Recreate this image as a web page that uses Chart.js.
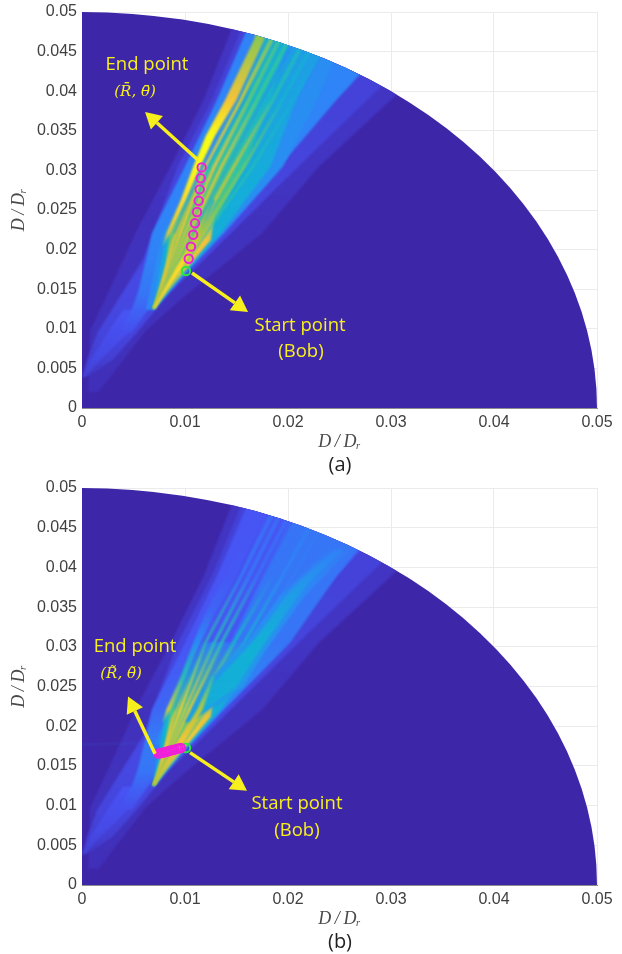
<!DOCTYPE html>
<html><head><meta charset="utf-8">
<script src="https://cdn.jsdelivr.net/npm/chart.js@4"></script>
<style>html,body{margin:0;padding:0;background:#fff}canvas{position:absolute;left:0}</style>
</head><body>
<canvas id="a" width="622" height="477" style="top:0"></canvas>
<canvas id="b" width="622" height="477" style="top:477px"></canvas>
<script>
// Axis ticks
const xTickValues=[0,0.01,0.02,0.03,0.04,0.05];
const yTickValues=[0,0.005,0.01,0.015,0.02,0.025,0.03,0.035,0.04,0.045,0.05];
const radius=0.05;
const axisTitle='D\u2009/\u2009Dᵣ';
// Intensity bands: [y, xLeft, xRight, intensity (a), intensity (b)]; a negative intensity means the band is absent
const bandWide=[[.0020,.0006,.0016,.03,.03],[.0098,.0008,.0062,.04,.04],[.0136,.0022,.0095,.04,.04],[.0221,.0052,.0175,.04,.04],[.0305,.0086,.0230,.05,.05],[.0389,.0118,.0300,.05,.05],[.052,.0158,.0410,.05,.05]];
const bandViolet=[[.0039,0,.0005,.05,.05],[.0061,.0005,.0030,.08,.08],[.0095,.0015,.0053,.1,.1],[.0145,.0039,.0085,.11,.11],[.0187,.0059,.0118,.11,.11],[.0305,.0093,.0210,.1,.1],[.0389,.0126,.0277,.09,.09],[.052,.0168,.0385,.09,.09]];
const bandGlowCore=[[.0039,0,.0003,.08,.08],[.0061,.0008,.0018,.11,.11],[.0095,.0025,.0045,.13,.13],[.0124,.0040,.0060,.15,.15]];
const bandBlue=[[.0095,.0036,.0048,.13,.13],[.0124,.0048,.0064,.19,.19],[.0145,.0054,.0076,.24,.24],[.0187,.0062,.0103,.27,.25],[.0221,.0068,.0134,.28,.2],[.0305,.0100,.0192,.28,.15],[.0389,.0131,.0247,.28,.15],[.052,.0174,.0340,.27,.15]];
const bandSkyA=[[.0124,.0062,.0069,.29,-1],[.0178,.0071,.0106,.31,-1],[.0221,.0078,.0138,.31,-1],[.0305,.0118,.0195,.31,-1],[.0389,.0150,.0228,.31,-1],[.052,.0183,.0272,.3,-1]];
const bandSkyB=[[.0124,-1,-1,-1,.25],[.0178,.0071,.0106,-1,.3],[.0221,.0085,.0138,-1,.3],[.0305,.0144,.0202,-1,.24],[.0389,.0175,.0247,-1,.24],[.052,.0225,.0330,-1,.24]];
const bandTeal=[[.0124,.0068,.0070,.36,.4],[.0178,.0076,.0105,.4,.43],[.0221,.0082,.0135,.42,.42],[.0305,.0118,.0183,.41,.25],[.0389,.0150,.0208,.38,-1],[.052,.0183,.0256,.34,-1]];
const bandGreen=[[.0124,.0069,.00695,.5,.5],[.0178,.0081,.0098,.62,.62],[.0221,.0085,.0122,.63,.58],[.0305,.0123,.0158,.54,.26],[.0389,.0160,.0183,.45,-1],[.052,.0190,.0212,.4,-1]];
const bandOrange=[[.0132,.0071,.0073,.7,.85],[.0178,.0092,.0103,.84,.88],[.0212,.0110,.0125,.84,.82],[.0263,.0127,.0131,.5,.42]];
const stripe1=[[.0126,.0069,.00705,.7,.7],[.0221,.0094,.0097,.82,.88],[.0305,.0118,.0121,.88,.52],[.0389,.0152,.0156,.76,.24],[.052,.0203,.0208,.56,.2]];
const stripe2=[[.0126,.0069,.00705,.7,.7],[.0221,.0099,.0101,.8,.86],[.0305,.0127,.0130,.84,.5],[.0389,.0160,.0164,.62,.24],[.052,.0211,.0215,.5,.2]];
const stripe3=[[.0126,.0069,.00705,.66,.7],[.0221,.0103,.0106,.8,.84],[.0305,.0134,.0137,.8,.5],[.0389,.0168,.0172,.58,.22],[.052,.0221,.0225,.46,.2]];
const stripe4=[[.0126,.0069,.00705,.66,.66],[.0221,.0110,.0113,.78,.76],[.0305,.0146,.0149,.76,.46],[.0389,.0183,.0187,.5,.24],[.052,.0237,.0241,.42,.22]];
const stripe5=[[.0126,.0069,.00705,.6,.62],[.0221,.0115,.0118,.68,.68],[.0305,.0156,.0159,.64,.44],[.0389,.0193,.0196,.44,.28],[.052,.0248,.0252,.38,.24]];
const stripe6=[[.0126,.0069,.00705,.55,.6],[.0221,.0120,.0122,.55,.55],[.0305,.0165,.0167,.52,.38],[.0389,.0204,.0206,.42,.26],[.052,.0261,.0265,.34,.24]];
const stripe7=[[.0126,.0069,.00705,.7,.72],[.0165,.0078,.0081,.82,.86],[.0210,.0087,.0090,.8,.8],[.0263,.0104,.0106,.72,.46],[.0305,.0117,.0118,.7,.3]];
const stripeDark1=[[.0221,.0089,.0090,.3,.3],[.0305,.01175,.01185,.3,.14],[.0389,.01505,.0152,.3,.12],[.052,.0190,.0192,.3,.12]];
const stripeDark2=[[.0221,.0107,.0108,.3,.3],[.0305,.0141,.0142,.3,.16],[.0389,.0175,.0176,.26,.14],[.052,.0228,.0230,.26,.14]];
const stripeEdge=[[.0126,.0069,.0071,.88,.75],[.0178,.0092,.0098,.92,.86],[.0221,.0112,.0117,.72,.74],[.0263,.0126,.0129,.45,.5]];
const bandMain=[[.0205,.0078,.0079,.5,.5],[.0221,.0082,.0086,.82,.8],[.0263,.0096,.0101,.92,.5],[.0305,.0108,.0115,1,.3],[.0343,.0120,.0129,1,.2],[.0389,.0139,.0150,.84,.16],[.0465,.0167,.0177,.68,.15],[.052,.0179,.0189,.66,.15]];
const bandCoreSoftB=[[.0205,.0100,.0104,-1,.34],[.0249,.0118,.0156,-1,.34],[.0291,.0146,.0176,-1,.34],[.0313,.0164,.0188,-1,.32],[.0364,.0192,.0216,-1,.3],[.0423,.0240,.0260,-1,.25]];
const bandCoreB=[[.0205,.0102,.0104,-1,.4],[.0249,.0124,.0150,-1,.42],[.0291,.0155,.0170,-1,.43],[.0313,.0170,.0182,-1,.42],[.0364,.0198,.0210,-1,.36],[.0385,.0213,.0223,-1,.33],[.0423,.0246,.0254,-1,.27]];
const bands=[bandWide,bandViolet,bandGlowCore,bandBlue,bandSkyA,bandSkyB,bandTeal,bandGreen,bandOrange,stripe6,stripe5,stripe4,stripe3,stripe2,stripe1,stripe7,stripeDark1,stripeDark2,bandCoreSoftB,bandCoreB,stripeEdge,bandMain];
// Parula colour map
const parula=[[62,38,168],[72,82,244],[46,135,247],[18,177,214],[55,200,151],[171,199,57],[254,195,56],[249,251,21]];
// Trajectory points
const endXa=[.01162,.01152,.01143,.01133,.01117,.01097,.0108,.01058,.01036];
const endYa=[.03038,.029,.02761,.02617,.02475,.02332,.02188,.02037,.01885];
const startXa=[.0101]; const startYa=[.0173];
const endXb=[.0074,.0076,.0078,.008,.0082,.0084,.0086,.0088,.009,.0092,.0094,.0096];
const endYb=[.01655,.0166,.01665,.0167,.0168,.01685,.01695,.017,.01705,.01715,.0172,.01725];
const startXb=[.0101]; const startYb=[.01726];
// Annotations
const arrowEndA=[.01126,.03131,.00612,.03737];
const arrowStartA=[.01068,.01705,.01612,.01212];
const arrowEndB=[.00709,.01654,.00447,.02374];
const arrowStartB=[.01049,.01667,.01602,.01187];
const labelsA=[['End point',.00631,.0433,0],['(R̄, θ̄)',.00515,.0399,1],['Start point',.02117,.01035,0],['(Bob)',.02126,.00707,0]];
const labelsB=[['End point',.00515,.03005,0],['(R̃, θ̃)',.00379,.02652,1],['Start point',.02087,.01023,0],['(Bob)',.02087,.00682,0]];

function cmap(v){
  const p=Math.min(v,1)*(parula.length-1),i=Math.min(Math.floor(p),parula.length-2),f=p-i;
  const c=parula[i].map((a,k)=>Math.round(a+(parula[i+1][k]-a)*f));
  return `rgb(${c[0]},${c[1]},${c[2]})`;
}
const heat={id:'heat',beforeDatasetsDraw(ch,_,o){
  const c=ch.ctx,X=ch.scales.x,Y=ch.scales.y,x0=X.getPixelForValue(0),y0=Y.getPixelForValue(0);
  c.save();
  c.beginPath();c.moveTo(x0,y0);
  c.ellipse(x0,y0,X.getPixelForValue(radius)-x0,y0-Y.getPixelForValue(radius),0,-Math.PI/2,0);
  c.closePath();c.fillStyle=cmap(0);c.fill();c.clip();
  c.filter='blur(1px)';
  const k=o.col;
  bands.forEach(band=>{
    const b=band.filter(r=>r[k]>=0);
    if(b.length<2)return;
    const top=Y.getPixelForValue(b[b.length-1][0]),bot=Y.getPixelForValue(b[0][0]);
    const g=c.createLinearGradient(0,bot,0,top);
    b.forEach(r=>g.addColorStop((bot-Y.getPixelForValue(r[0]))/(bot-top),cmap(r[k])));
    c.beginPath();
    b.forEach((r,i)=>{const px=X.getPixelForValue(r[1]),py=Y.getPixelForValue(r[0]);i?c.lineTo(px,py):c.moveTo(px,py);});
    for(let i=b.length-1;i>=0;i--)c.lineTo(X.getPixelForValue(b[i][2]),Y.getPixelForValue(b[i][0]));
    c.closePath();c.fillStyle=g;c.fill();
  });
  c.restore();
}};
const notes={id:'notes',afterDatasetsDraw(ch,_,o){
  const c=ch.ctx,X=ch.scales.x,Y=ch.scales.y,yellow='#f8f01c';
  c.save();
  o.arrows.forEach(a=>{
    const x1=X.getPixelForValue(a[0]),y1=Y.getPixelForValue(a[1]),x2=X.getPixelForValue(a[2]),y2=Y.getPixelForValue(a[3]);
    const t=Math.atan2(y2-y1,x2-x1),h=16,w=9;
    const bx=x2-h*Math.cos(t),by=y2-h*Math.sin(t);
    c.strokeStyle=yellow;c.lineWidth=3.5;c.beginPath();c.moveTo(x1,y1);c.lineTo(bx,by);c.stroke();
    c.fillStyle=yellow;c.beginPath();c.moveTo(x2,y2);
    c.lineTo(bx-w*Math.sin(t),by+w*Math.cos(t));c.lineTo(bx+w*Math.sin(t),by-w*Math.cos(t));c.closePath();c.fill();
  });
  c.fillStyle=yellow;c.textAlign='center';c.textBaseline='middle';
  o.labels.forEach(l=>{
    c.font=l[3]?'italic 15px "DejaVu Serif"':'18.5px "Open Sans"';
    c.fillText(l[0],X.getPixelForValue(l[1]),Y.getPixelForValue(l[2]));
  });
  c.fillStyle='#222';c.font='20px "Open Sans"';
  c.fillText(o.caption,340,465);
  c.restore();
}};
function make(id,top,col,ex,ey,sx,sy,arrows,labels,caption,xh){
  const axis=(ticks,afterFit,extra)=>Object.assign({type:'linear',min:0,max:radius,
    afterBuildTicks:s=>{s.ticks=ticks.map(v=>({value:v}));},
    afterFit,
    grid:{color:'#ebebeb',lineWidth:1,drawTicks:false},
    border:{color:'#8c8c8c',width:1},
    title:{display:true,text:axisTitle,color:'#4a4a4a',font:{family:'"Liberation Serif"',style:'italic',size:18}},
    ticks:{color:'#404040',font:{family:'"Liberation Sans"',size:16},autoSkip:false,maxRotation:0,padding:5,callback:v=>String(+(+v).toFixed(3))}
  },extra);
  const x=axis(xTickValues,s=>{s.height=xh;s.paddingLeft=0;s.paddingRight=0;});
  x.title.padding={top:2,bottom:24};
  const y=axis(yTickValues,s=>{s.width=82;s.paddingTop=0;s.paddingBottom=0;});
  y.title.padding={top:8,bottom:0};
  new Chart(document.getElementById(id),{type:'scatter',
    data:{datasets:[
      {label:'End point',data:ex.map((v,i)=>({x:v,y:ey[i]})),borderColor:'#f020d8',backgroundColor:'rgba(0,0,0,0)',pointRadius:4.2,borderWidth:2},
      {label:'Start point',data:sx.map((v,i)=>({x:v,y:sy[i]})),borderColor:'#28e83c',backgroundColor:'rgba(0,0,0,0)',pointRadius:4.2,borderWidth:2}
    ]},
    options:{responsive:false,animation:false,
      layout:{padding:{top:top,right:25,left:0,bottom:0}},
      scales:{x,y},
      plugins:{legend:{display:false},tooltip:{enabled:false},heat:{col},notes:{arrows,labels,caption}}},
    plugins:[heat,notes]});
}
make('a',12,3,endXa,endYa,startXa,startYa,[arrowEndA,arrowStartA],labelsA,'(a)',69);
make('b',11,4,endXb,endYb,startXb,startYb,[arrowEndB,arrowStartB],labelsB,'(b)',69);
</script>
</body></html>
